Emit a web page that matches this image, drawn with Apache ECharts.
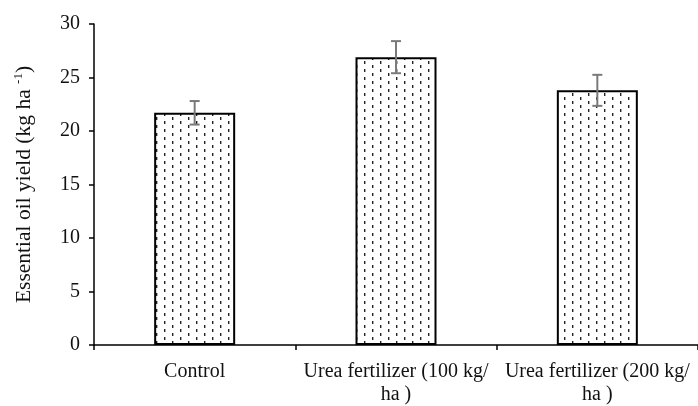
<!DOCTYPE html>
<html>
<head>
<meta charset="utf-8">
<script src="https://cdn.jsdelivr.net/npm/echarts@6/dist/echarts.min.js"></script>
<style>html,body{margin:0;padding:0;background:#fff}#c{width:698px;height:406px}</style>
</head>
<body>
<div id="c"></div>
<script>
var categories = ['Control', 'Urea fertilizer (100 kg/\nha )', 'Urea fertilizer (200 kg/\nha )'];
var yieldValues = [21.7, 26.9, 23.8];
var errorValues = [1.1, 1.5, 1.45];
var yTicks = [0, 5, 10, 15, 20, 25, 30];

// dotted-dash pattern
var pc = document.createElement('canvas');
pc.width = 16; pc.height = 8;
var g = pc.getContext('2d');
g.fillStyle = '#fff'; g.fillRect(0, 0, 16, 8);
g.fillStyle = '#222';
g.fillRect(4, 1, 1, 3);
g.fillRect(12, 5, 1, 3);
g.fillStyle = '#aaa';
g.fillRect(5, 1, 1, 3);
g.fillRect(13, 5, 1, 3);

var font = 'Liberation Serif';
var chart = echarts.init(document.getElementById('c'));
chart.setOption({
  animation: false,
  grid: {left: 94, right: 0, top: 24, bottom: 59, containLabel: false},
  xAxis: {
    type: 'category',
    data: categories,
    axisLine: {lineStyle: {color: '#000', width: 1.5}},
    axisTick: {show: true, length: 5, lineStyle: {color: '#000', width: 1.5}},
    axisLabel: {interval: 0, margin: 15, color: '#111', fontFamily: font, fontSize: 20, lineHeight: 23}
  },
  yAxis: {
    type: 'value',
    min: yTicks[0], max: yTicks[yTicks.length - 1], interval: 5,
    splitLine: {show: false},
    axisLine: {show: true, lineStyle: {color: '#000', width: 1.5}},
    axisTick: {show: true, length: 5, lineStyle: {color: '#000', width: 1.5}},
    axisLabel: {margin: 14, color: '#111', fontFamily: font, fontSize: 20},
    name: '{t|Essential oil yield (kg ha }{s|-1}{t|)}',
    nameLocation: 'middle',
    nameGap: 58,
    nameRotate: 90,
    nameTextStyle: {
      color: '#111', fontFamily: font, fontSize: 21.5,
      rich: {
        t: {fontFamily: font, fontSize: 21.5, color: '#111', lineHeight: 24},
        s: {fontFamily: font, fontSize: 13, color: '#111', lineHeight: 24, verticalAlign: 'top', padding: [0, 0, 8, 0]}
      }
    }
  },
  series: [{
    type: 'bar',
    data: yieldValues,
    barWidth: 81,
    itemStyle: {color: {image: pc, repeat: 'repeat'}, borderColor: '#000', borderWidth: 2},
    z: 2
  }, {
    type: 'custom',
    data: yieldValues.map(function (v, i) { return [i, v - errorValues[i], v + errorValues[i]]; }),
    z: 5,
    renderItem: function (params, api) {
      var lo = api.coord([api.value(0), api.value(1)]);
      var hi = api.coord([api.value(0), api.value(2)]);
      var hw = 5;
      var st = {stroke: '#7a7a7a', lineWidth: 2};
      return {type: 'group', children: [
        {type: 'line', shape: {x1: hi[0], y1: hi[1], x2: lo[0], y2: lo[1]}, style: st},
        {type: 'line', shape: {x1: hi[0] - hw, y1: hi[1], x2: hi[0] + hw, y2: hi[1]}, style: st},
        {type: 'line', shape: {x1: lo[0] - hw, y1: lo[1], x2: lo[0] + hw, y2: lo[1]}, style: st}
      ]};
    }
  }]
});
</script>
</body>
</html>
